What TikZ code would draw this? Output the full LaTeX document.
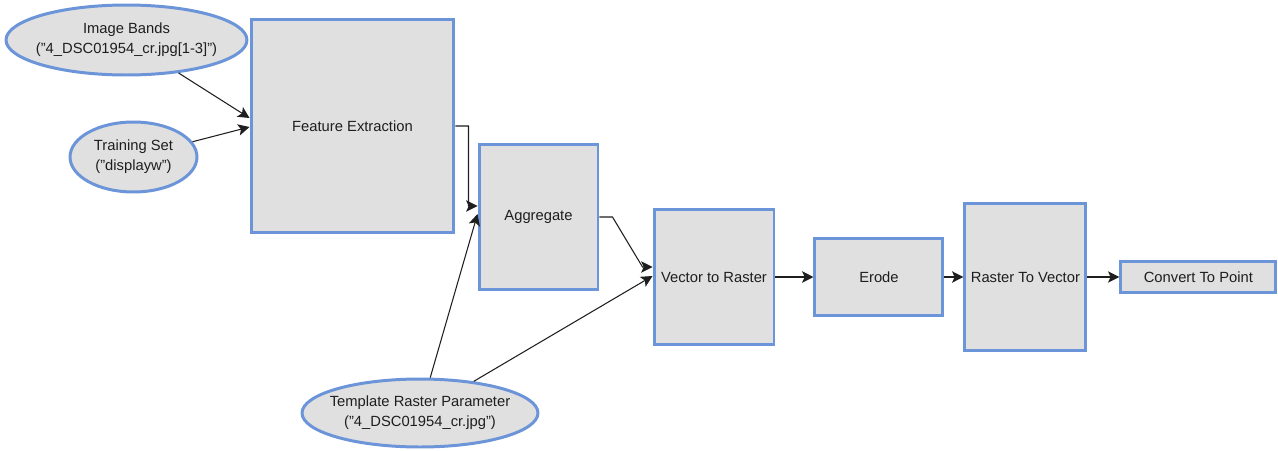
\documentclass[tikz,border=0pt]{standalone}
\usepackage{fontspec}
\setmainfont{Liberation Sans}
\usetikzlibrary{positioning,shapes.geometric,arrows.meta,calc}

\definecolor{toolblue}{RGB}{108,148,216}
\definecolor{toolgray}{RGB}{224,224,224}
\definecolor{inkgray}{RGB}{30,30,30}

\begin{document}
\begin{tikzpicture}[x=0.02cm, y=-0.02cm,
		tool/.style = {draw=toolblue, fill=toolgray, line width=1.7pt, inner sep=0pt, text=inkgray, font=\fontsize{8.4}{11.3}\selectfont},
		data/.style = {tool, ellipse, inner xsep=-4pt, align=center},
		link/.style = {color=inkgray, draw, line width=0.6pt, -{Stealth[length=6.5pt,width=6.5pt,inset=1.5pt]}}]
		\useasboundingbox (0,0) rectangle (1278,450);
		\node[data] (ib) at (126.5,40) [minimum width=4.82cm, minimum height=1.40cm] {Image Bands\\("4\_DSC01954\_cr.jpg[1-3]")};
		\node[data] (ts) at (133.5,157) [minimum width=2.54cm, minimum height=1.40cm] {Training Set\\("displayw")};
		\node[data] (tp) at (420,413) [minimum width=4.72cm, minimum height=1.36cm] {Template Raster Parameter\\("4\_DSC01954\_cr.jpg")};
		\node[tool] (fe) at (352.5,126) [minimum width=4.06cm, minimum height=4.28cm] {Feature Extraction};
		\node[tool] (ag) at (538.5,217) [minimum width=2.38cm, minimum height=2.92cm] {Aggregate};
		\node[tool] (vr) at (714,277) [minimum width=2.40cm, minimum height=2.70cm] {Vector to Raster};
		\node[tool] (er) [right=0.76cm of vr] [minimum width=2.56cm, minimum height=1.54cm] {Erode};
		\node[tool] (rv) [right=0.38cm of er] [minimum width=2.42cm, minimum height=2.94cm] {Raster To Vector};
		\node[tool] (cp) [right=0.64cm of rv] [minimum width=3.10cm, minimum height=0.62cm] {Convert To Point};
		\draw[link] (ib) -- ($(fe.west)+(0,-8)$);
		\draw[link] (ts) -- ($(fe.west)+(0,1)$);
		\draw[link] (fe.east) -- ++(13,0) -- ($(ag.west)+(-9,-11)$) -- ($(ag.west)+(0,-11)$);
		\draw[link] (tp) -- ($(ag.west)+(0,-3)$);
		\draw[link] (ag.east) -- ++(13,0) -- ($(vr.west)+(-10,-10)$) -- ($(vr.west)+(0,-10)$);
		\draw[link] (tp) -- ($(vr.west)+(0,-1)$);
		\path[link] (vr) edge (er)
			(er) edge (rv)
			(rv) edge (cp);
	\end{tikzpicture}
\end{document}
